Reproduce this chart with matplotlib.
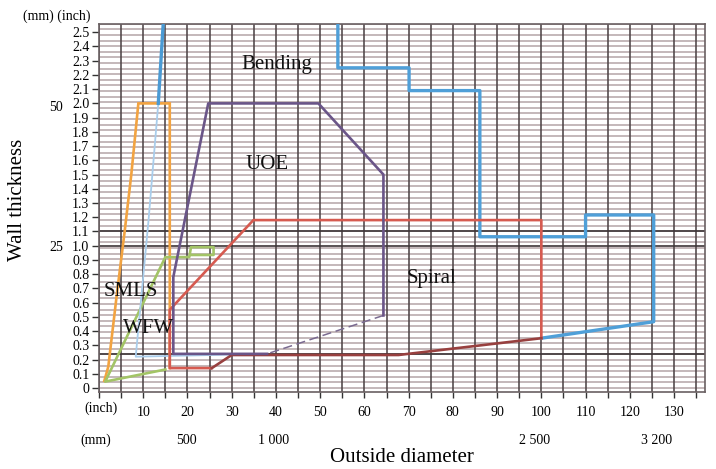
import matplotlib
matplotlib.use("Agg")
import matplotlib.pyplot as plt
import numpy as np

plt.rcParams['font.family'] = ['Liberation Serif', 'DejaVu Serif']

# ---------------- data (inch units) ----------------
x_tick_inch = [10, 20, 30, 40, 50, 60, 70, 80, 90, 100, 110, 120, 130]
y_tick_inch = [round(v * 0.1, 1) for v in range(26)]
x_mm_values = [500, 1000, 2500, 3200]
x_mm_labels = ["500", "1 000", "2 500", "3 200"]
y_mm_values = [25, 50]
y_mm_labels = ["25", "50"]

# SMLS (orange)
smls_x = [16.0, 16.0, 8.9, 7.3, 5.8, 4.0, 2.1, 1.2]
smls_y = [0.14, 2.0, 2.0, 1.5, 1.1, 0.65, 0.15, 0.05]

# WFW (green)
wfw_x = [15.0, 1.4, 15.0, 20.4, 20.8, 25.9, 25.9, 21.0]
wfw_y = [0.13, 0.045, 0.92, 0.92, 0.99, 0.99, 0.935, 0.935]

# Bending (blue) left edge, lower thin part and upper thick part
bend_low_x = [30.0, 8.3, 11.2, 13.4]
bend_low_y = [0.235, 0.22, 1.18, 2.0]
bend_up_x = [13.4, 14.6]
bend_up_y = [2.0, 2.6]
# Bending (blue) right boundary
bend_r_x = [54.0, 54.0, 70.1, 70.1, 86.1, 86.1, 110.0, 110.0, 125.4, 125.4, 100.0]
bend_r_y = [2.6, 2.25, 2.25, 2.09, 2.09, 1.063, 1.063, 1.216, 1.216, 0.466, 0.35]

# UOE (purple)
uoe_x = [38.0, 16.8, 16.8, 24.7, 49.6, 64.3, 64.3]
uoe_y = [0.24, 0.24, 0.78, 2.0, 2.0, 1.5, 0.51]
uoe_dash_x = [64.3, 38.0]
uoe_dash_y = [0.51, 0.24]

# Spiral (red)
spiral_top_x = [100.0, 100.0, 34.9, 16.0, 16.0, 25.5]
spiral_top_y = [0.35, 1.18, 1.18, 0.55, 0.14, 0.14]
spiral_bot_x = [25.5, 30.0, 67.7, 100.0]
spiral_bot_y = [0.14, 0.232, 0.232, 0.35]

region_names = ["Bending", "UOE", "Spiral", "SMLS", "WFW"]
region_x = [40.2, 37.9, 75.1, 7.2, 11.2]
region_y = [2.275, 1.574, 0.771, 0.677, 0.42]

# ---------------- figure ----------------
W, H = 716, 469
fig = plt.figure(figsize=(W / 100, H / 100), dpi=100)
L, R, T, B = 99, 705, 24, 392
ax = fig.add_axes([L / W, 1 - B / H, (R - L) / W, (B - T) / H])
ax.set_xlim(0, 137)
ax.set_ylim(-0.028, 2.558)

# graph-paper grid
for mm in range(0, 66):
    ax.axhline(mm / 25.4, color='#b4a4a7', lw=1.1, zorder=1)
for yy in [0.24, 1.0, 1.1]:
    ax.axhline(yy, color='#3d3537', lw=1.2, zorder=1.5)
for xx in range(0, 140, 5):
    ax.axvline(xx, color='#4f4547', lw=1.15, zorder=1.2)

# series
ax.plot(smls_x, smls_y, color='#f2a341', lw=1.9, zorder=3, solid_joinstyle='miter')
ax.plot(wfw_x, wfw_y, color='#a3c466', lw=1.9, zorder=3)
ax.plot(bend_low_x, bend_low_y, color='#a9cdeb', lw=1.3, zorder=3)
ax.plot(bend_up_x, bend_up_y, color='#4a9ad4', lw=2.4, zorder=3)
ax.plot(bend_r_x, bend_r_y, color='#4f9fd8', lw=2.4, zorder=3)
ax.plot(uoe_x, uoe_y, color='#6a5588', lw=1.9, zorder=3.2)
ax.plot(uoe_dash_x, uoe_dash_y, color='#7a6a90', lw=1.1, ls=(0, (6, 3)), zorder=3)
ax.plot(spiral_top_x, spiral_top_y, color='#d65a50', lw=1.9, zorder=3.1)
ax.plot(spiral_bot_x, spiral_bot_y, color='#98403f', lw=1.9, zorder=3.1)

for name, xx, yy in zip(region_names, region_x, region_y):
    ax.text(xx, yy, name, fontsize=15, ha='center', va='center', color='#111111', zorder=5)

# ticks
ax.set_yticks(y_tick_inch)
ax.set_yticklabels(["0" if v == 0 else f"{v:.1f}" for v in y_tick_inch], fontsize=10)
ax.set_xticks(np.arange(0, 136, 5), minor=True)
ax.set_xticks(x_tick_inch)
ax.set_xticklabels([str(v) for v in x_tick_inch], fontsize=10)
ax.tick_params(axis='both', which='both', direction='out', color='#333333', width=1.0)
ax.tick_params(axis='y', length=5, pad=2)
ax.tick_params(axis='x', which='major', length=4, pad=6)
ax.tick_params(axis='x', which='minor', length=4)
for s in ax.spines.values():
    s.set_color('#6a6062')
    s.set_linewidth(1.2)

# secondary (mm) labels
for v, lab in zip(x_mm_values, x_mm_labels):
    ax.text(v / 25.4, -0.0 , lab, transform=ax.get_xaxis_transform(), fontsize=10,
            ha='center', va='center')
for t in ax.texts[-len(x_mm_values):]:
    t.set_y(-(440 - B) / (B - T))
for v, lab in zip(y_mm_values, y_mm_labels):
    ax.text(-(L - 56) / (R - L), v / 25.4, lab, transform=ax.get_yaxis_transform(),
            fontsize=10, ha='center', va='center')

fig.text(101 / W, 1 - 408 / H, "(inch)", fontsize=10, ha='center', va='center')
fig.text(96 / W, 1 - 440 / H, "(mm)", fontsize=10, ha='center', va='center')
fig.text(57 / W, 1 - 16 / H, "(mm) (inch)", fontsize=10, ha='center', va='center')

fig.text(18 / W, 1 - 200 / H, "Wall thickness", fontsize=15, rotation=90,
         ha='center', va='center')
fig.text(402 / W, 1 - 457 / H, "Outside diameter", fontsize=15, ha='center', va='center')

fig.savefig("out.png", dpi=100)
